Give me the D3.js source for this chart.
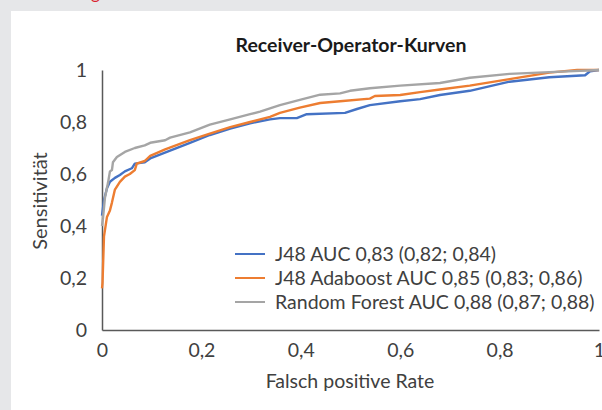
<!DOCTYPE html>
<html>
<head>
<meta charset="utf-8">
<script src="https://cdn.jsdelivr.net/npm/d3@7"></script>
<style>
  body { margin: 0; background: #e6e7e9; }
  svg { display: block; font-family: Lato, sans-serif; }
</style>
</head>
<body>
<svg id="chart"></svg>
<script>
const seriesNames = [
  'J48 AUC 0,83 (0,82; 0,84)',
  'J48 Adaboost AUC 0,85 (0,83; 0,86)',
  'Random Forest AUC 0,88 (0,87; 0,88)'
];
const seriesColors = ['#4472c4', '#ed7d31', '#a5a5a5'];

const j48Fpr = [0, 0.002, 0.004, 0.01, 0.016, 0.026, 0.036, 0.046, 0.06, 0.066, 0.086, 0.097, 0.137, 0.177, 0.217, 0.258, 0.298, 0.338, 0.358, 0.392, 0.412, 0.489, 0.513, 0.539, 0.6, 0.64, 0.68, 0.74, 0.82, 0.9, 0.972, 0.982, 1];
const j48Tpr = [0.44, 0.47, 0.5, 0.545, 0.57, 0.585, 0.596, 0.61, 0.622, 0.64, 0.645, 0.66, 0.69, 0.72, 0.75, 0.775, 0.795, 0.81, 0.815, 0.815, 0.83, 0.835, 0.85, 0.865, 0.88, 0.888, 0.904, 0.92, 0.955, 0.972, 0.98, 0.995, 1];

const adaFpr = [0, 0.001, 0.004, 0.01, 0.016, 0.02, 0.026, 0.036, 0.046, 0.056, 0.066, 0.07, 0.086, 0.097, 0.127, 0.177, 0.217, 0.258, 0.298, 0.338, 0.358, 0.398, 0.439, 0.479, 0.539, 0.549, 0.6, 0.64, 0.68, 0.74, 0.82, 0.9, 0.956, 1];
const adaTpr = [0.16, 0.18, 0.36, 0.435, 0.46, 0.49, 0.54, 0.57, 0.59, 0.6, 0.615, 0.64, 0.65, 0.67, 0.695, 0.73, 0.755, 0.78, 0.8, 0.82, 0.835, 0.855, 0.873, 0.88, 0.89, 0.9, 0.904, 0.915, 0.925, 0.94, 0.965, 0.99, 1, 1];

const rfFpr = [0, 0.002, 0.006, 0.012, 0.016, 0.02, 0.022, 0.03, 0.046, 0.066, 0.086, 0.097, 0.127, 0.137, 0.177, 0.217, 0.258, 0.298, 0.318, 0.358, 0.398, 0.439, 0.479, 0.499, 0.539, 0.6, 0.68, 0.74, 0.82, 0.9, 1];
const rfTpr = [0.4, 0.43, 0.51, 0.565, 0.61, 0.615, 0.645, 0.665, 0.685, 0.7, 0.71, 0.72, 0.73, 0.74, 0.76, 0.79, 0.81, 0.83, 0.84, 0.865, 0.885, 0.905, 0.91, 0.92, 0.93, 0.94, 0.95, 0.97, 0.985, 0.992, 1];

const tickValues = [0, 0.2, 0.4, 0.6, 0.8, 1];
const tickLabels = ['0', '0,2', '0,4', '0,6', '0,8', '1'];

const width = 602;
const height = 410;
const margin = {left: 102, right: 3, top: 70, bottom: 80};
const textColor = '#404040';
const fontSize = '19.5px';

const svg = d3.select('#chart')
  .attr('width', width)
  .attr('height', height);

svg.append('rect')
  .attr('x', 11).attr('y', 11)
  .attr('width', width - 11).attr('height', height - 11)
  .attr('fill', '#fff');

// cut-off heading fragment above the panel
svg.append('text')
  .attr('x', 91).attr('y', -1)
  .attr('fill', '#d9232e')
  .style('font-size', '17px')
  .text('g');

const xScale = d3.scaleLinear()
  .domain([0, 1])
  .range([margin.left, width - margin.right]);
const yScale = d3.scaleLinear()
  .domain([0, 1])
  .range([height - margin.bottom, margin.top]);

const fmt = d => tickLabels[tickValues.indexOf(d)];

const xAxis = svg.append('g')
  .attr('transform', `translate(0, ${yScale(0)})`)
  .call(d3.axisBottom(xScale).tickValues(tickValues).tickFormat(fmt).tickSize(0).tickPadding(13));
const yAxis = svg.append('g')
  .attr('transform', `translate(${xScale(0)}, 0)`)
  .call(d3.axisLeft(yScale).tickValues(tickValues).tickFormat(fmt).tickSize(0).tickPadding(15));

[xAxis, yAxis].forEach(a => {
  a.select('.domain').attr('stroke', '#595959').attr('stroke-width', 1.5);
  a.selectAll('text')
    .attr('fill', textColor)
    .style('font-size', fontSize)
    .style('font-family', 'Lato, sans-serif');
});
xAxis.selectAll('text').attr('dy', '0.71em');

const line = d3.line()
  .x(d => xScale(d[0]))
  .y(d => yScale(d[1]));

const series = [
  d3.zip(j48Fpr, j48Tpr),
  d3.zip(adaFpr, adaTpr),
  d3.zip(rfFpr, rfTpr)
];

svg.append('g')
  .selectAll('path')
  .data(series)
  .join('path')
  .attr('d', line)
  .attr('fill', 'none')
  .attr('stroke', (d, i) => seriesColors[i])
  .attr('stroke-width', 2.4)
  .attr('stroke-linejoin', 'round');

svg.append('text')
  .attr('x', 351).attr('y', 52)
  .attr('text-anchor', 'middle')
  .attr('fill', '#1a1a1a')
  .style('font-size', fontSize)
  .style('font-weight', 'bold')
  .text('Receiver-Operator-Kurven');

svg.append('text')
  .attr('x', 350).attr('y', 388)
  .attr('text-anchor', 'middle')
  .attr('fill', textColor)
  .style('font-size', fontSize)
  .text('Falsch positive Rate');

svg.append('text')
  .attr('transform', 'translate(40, 201) rotate(-90)')
  .attr('text-anchor', 'middle')
  .attr('dy', '0.35em')
  .attr('fill', textColor)
  .style('font-size', '20px')
  .text('Sensitivität');

const legend = svg.append('g')
  .selectAll('g')
  .data(seriesNames)
  .join('g')
  .attr('transform', (d, i) => `translate(235, ${254 + i * 24})`);

legend.append('line')
  .attr('x1', 0).attr('x2', 30)
  .attr('stroke', (d, i) => seriesColors[i])
  .attr('stroke-width', 2);

legend.append('text')
  .attr('x', 40)
  .attr('dy', '0.35em')
  .attr('fill', textColor)
  .style('font-size', fontSize)
  .text(d => d);
</script>
</body>
</html>
